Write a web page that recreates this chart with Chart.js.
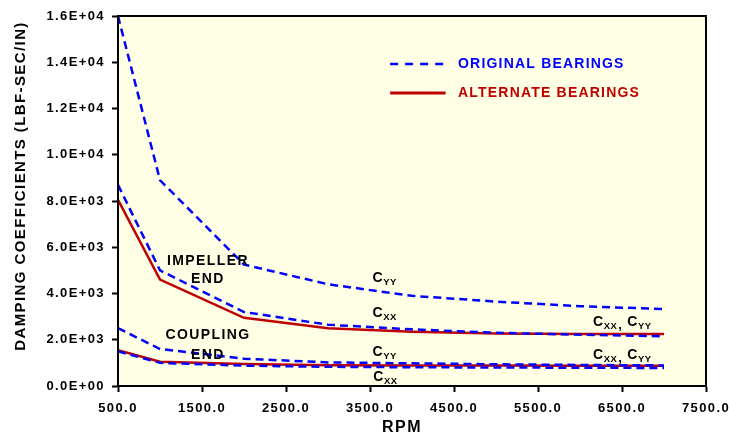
<!DOCTYPE html>
<html>
<head>
    <title>Damping Coefficients</title>
    <script src="https://cdn.jsdelivr.net/npm/chart.js@4.4.0/dist/chart.umd.min.js"></script>
    <style>
        body { margin: 0; background: #ffffff; }
        #wrap { width: 729px; height: 440px; }
    </style>
</head>
<body>
    <div id="wrap"><canvas id="chart"></canvas></div>
    <script>
        // RPM values where the coefficients were computed
        var rpm = [500, 1000, 2000, 3000, 4000, 5000, 6000, 7000];

        // impeller end
        var origImpellerCyy = [16000, 8900, 5250, 4400, 3900, 3650, 3450, 3330];
        var origImpellerCxx = [8700, 5000, 3200, 2650, 2450, 2300, 2220, 2150];
        var altImpeller = [8050, 4600, 2950, 2500, 2350, 2270, 2250, 2250];

        // coupling end
        var origCouplingCyy = [2500, 1600, 1180, 1020, 980, 940, 910, 890];
        var origCouplingCxx = [1500, 1000, 880, 830, 810, 800, 790, 780];
        var altCoupling = [1550, 1050, 950, 900, 890, 885, 880, 880];

        var xTicks = [500, 1500, 2500, 3500, 4500, 5500, 6500, 7500];
        var yTicks = [0, 2000, 4000, 6000, 8000, 10000, 12000, 14000, 16000];

        var BLUE = '#0000ff';
        var RED = '#c00000';
        var FONT = '"Liberation Sans", Arial, sans-serif';
        var SPACING = '1.4px';

        function toPoints(ys) {
            return rpm.map(function(x, i) { return { x: x, y: ys[i] }; });
        }

        function sciLabel(v) {
            if (v === 0) return '0.0E+00';
            var e = Math.floor(Math.log10(v));
            var m = v / Math.pow(10, e);
            return m.toFixed(1) + 'E+' + (e < 10 ? '0' + e : e);
        }

        function origSet(label, ys) {
            return { label: label, data: toPoints(ys), borderColor: BLUE, borderWidth: 2.5,
                     borderDash: [8, 5], pointRadius: 0, tension: 0, fill: false };
        }
        function altSet(label, ys) {
            return { label: label, data: toPoints(ys), borderColor: RED, borderWidth: 2.5,
                     pointRadius: 0, tension: 0, fill: false };
        }

        // plot background, frame, wider lettering
        var framePlugin = {
            id: 'frame',
            beforeDraw: function(chart) {
                var a = chart.chartArea, c = chart.ctx;
                c.letterSpacing = SPACING;
                c.save();
                c.fillStyle = '#ffffe6';
                c.fillRect(a.left, a.top, a.right - a.left, a.bottom - a.top);
                c.restore();
            },
            afterDraw: function(chart) {
                var a = chart.chartArea, c = chart.ctx;
                c.save();
                c.strokeStyle = '#000';
                c.lineWidth = 2;
                c.strokeRect(a.left, a.top, a.right - a.left, a.bottom - a.top);

                // axis titles
                c.fillStyle = '#000';
                c.textAlign = 'center';
                c.textBaseline = 'middle';
                c.font = 'bold 16px ' + FONT;
                c.fillText('RPM', 402, 428);
                c.translate(21, 186);
                c.rotate(-Math.PI / 2);
                c.font = 'bold 15px ' + FONT;
                c.fillText('DAMPING COEFFICIENTS (LBF-SEC/IN)', 0, 0);
                c.restore();
            }
        };

        // draws "C" with subscript parts, e.g. [['C','XX'],['C','YY']]
        function drawCoef(c, x, y, parts) {
            c.textBaseline = 'middle';
            c.textAlign = 'left';
            parts.forEach(function(p, i) {
                if (i > 0) {
                    c.font = 'bold 13px ' + FONT;
                    c.fillText(',', x + 1, y + 3);
                    x += 10;
                }
                c.letterSpacing = '0.5px';
                c.font = 'bold 14px ' + FONT;
                c.fillText(p[0], x, y);
                x += c.measureText(p[0]).width;
                c.font = 'bold 9.5px ' + FONT;
                c.fillText(p[1], x, y + 4);
                x += c.measureText(p[1]).width;
            });
        }

        var labelPlugin = {
            id: 'labels',
            afterDatasetsDraw: function(chart) {
                var c = chart.ctx, xs = chart.scales.x, ys = chart.scales.y;
                function px(v) { return xs.getPixelForValue(v); }
                function py(v) { return ys.getPixelForValue(v); }
                c.save();
                c.letterSpacing = SPACING;
                c.fillStyle = '#000';
                c.font = 'bold 14px ' + FONT;
                c.textAlign = 'center';
                c.textBaseline = 'middle';
                c.fillText('IMPELLER', px(1571), py(5400));
                c.fillText('END', px(1571), py(4620));
                c.fillText('COUPLING', px(1571), py(2200));
                c.fillText('END', px(1571), py(1340));

                drawCoef(c, px(3530), py(4670), [['C', 'YY']]);
                drawCoef(c, px(3530), py(3160), [['C', 'XX']]);
                drawCoef(c, px(3530), py(1470), [['C', 'YY']]);
                drawCoef(c, px(3540), py(390), [['C', 'XX']]);
                drawCoef(c, px(6155), py(2770), [['C', 'XX'], ['C', 'YY']]);
                drawCoef(c, px(6155), py(1340), [['C', 'XX'], ['C', 'YY']]);

                // legend
                var l0 = px(3740), l1 = px(4400), tx = px(4548);
                var d0 = chart.data.datasets[0], d1 = chart.data.datasets[3];
                c.lineWidth = 2.5;
                c.strokeStyle = d0.borderColor;
                c.setLineDash([8, 7]);
                c.beginPath(); c.moveTo(l0, py(13924)); c.lineTo(l1, py(13924)); c.stroke();
                c.setLineDash([]);
                c.lineWidth = 3;
                c.strokeStyle = d1.borderColor;
                c.beginPath(); c.moveTo(l0, py(12670)); c.lineTo(l1, py(12670)); c.stroke();
                c.font = 'bold 14px ' + FONT;
                c.letterSpacing = '1.2px';
                c.textAlign = 'left';
                c.fillStyle = d0.borderColor;
                c.fillText(d0.label, tx, py(13924));
                c.fillStyle = d1.borderColor;
                c.fillText(d1.label, tx, py(12670));
                c.restore();
            }
        };

        var ctx = document.getElementById('chart').getContext('2d');
        var chart = new Chart(ctx, {
            type: 'line',
            data: {
                datasets: [
                    origSet('ORIGINAL BEARINGS', origImpellerCyy),
                    origSet('ORIGINAL BEARINGS', origImpellerCxx),
                    origSet('ORIGINAL BEARINGS', origCouplingCyy),
                    altSet('ALTERNATE BEARINGS', altImpeller),
                    origSet('ORIGINAL BEARINGS', origCouplingCxx),
                    altSet('ALTERNATE BEARINGS', altCoupling)
                ]
            },
            options: {
                responsive: true,
                maintainAspectRatio: false,
                animation: false,
                layout: { padding: { top: 16, right: 23, left: 0, bottom: 0 } },
                plugins: { legend: { display: false }, tooltip: { enabled: false } },
                scales: {
                    x: {
                        type: 'linear',
                        min: 500,
                        max: 7500,
                        afterBuildTicks: function(s) { s.ticks = xTicks.map(function(v) { return { value: v }; }); },
                        afterFit: function(s) { s.height = 54; s.paddingLeft = 0; s.paddingRight = 0; },
                        grid: { drawOnChartArea: false, color: '#000', tickLength: 6, tickWidth: 2 },
                        border: { color: '#000', width: 2 },
                        ticks: {
                            color: '#000',
                            font: { family: FONT, size: 13, weight: 'bold' },
                            maxRotation: 0,
                            autoSkip: false,
                            padding: 9,
                            callback: function(v) { return Number(v).toFixed(1); }
                        }
                    },
                    y: {
                        min: 0,
                        max: 16000,
                        afterBuildTicks: function(s) { s.ticks = yTicks.map(function(v) { return { value: v }; }); },
                        afterFit: function(s) { s.width = 118; s.paddingTop = 0; s.paddingBottom = 0; },
                        grid: { drawOnChartArea: false, color: '#000', tickLength: 6, tickWidth: 2 },
                        border: { color: '#000', width: 2 },
                        ticks: {
                            color: '#000',
                            font: { family: FONT, size: 13, weight: 'bold' },
                            padding: 7,
                            callback: function(v) { return sciLabel(v); }
                        }
                    }
                }
            },
            plugins: [framePlugin, labelPlugin]
        });
    </script>
</body>
</html>
